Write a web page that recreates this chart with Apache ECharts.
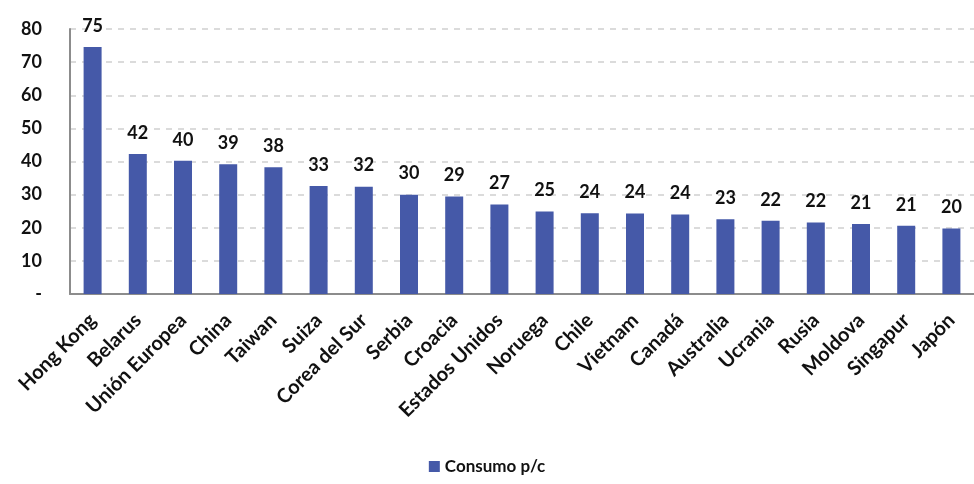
<!DOCTYPE html>
<html>
<head>
<meta charset="utf-8">
<script src="https://cdn.jsdelivr.net/npm/echarts@6/dist/echarts.min.js"></script>
<style>html,body{margin:0;padding:0;background:#fff;}#c{width:974px;height:484px;}</style>
</head>
<body>
<div id="c"></div>
<script>
const categories = ['Hong Kong','Belarus','Unión Europea','China','Taiwan','Suiza','Corea del Sur','Serbia','Croacia','Estados Unidos','Noruega','Chile','Vietnam','Canadá','Australia','Ucrania','Rusia','Moldova','Singapur','Japón'];
const consumo = [74.6, 42.3, 40.2, 39.2, 38.3, 32.6, 32.4, 30.0, 29.4, 27.0, 24.9, 24.4, 24.3, 24.0, 22.6, 22.1, 21.6, 21.1, 20.6, 19.8];
const yTicks = [0, 10, 20, 30, 40, 50, 60, 70, 80];

const FONT = 'Lato, "Open Sans", sans-serif';
const chart = echarts.init(document.getElementById('c'));
chart.setOption({
  animation: false,
  grid: { left: 70, top: 29, width: 916, height: 265 },
  legend: {
    bottom: 4, left: 'center',
    itemWidth: 11, itemHeight: 11, itemGap: 6,
    icon: 'rect',
    textStyle: { fontFamily: FONT, fontWeight: 'bold', fontSize: 17, color: '#111' },
    data: ['Consumo p/c']
  },
  xAxis: {
    type: 'category',
    data: categories,
    axisLine: { lineStyle: { color: '#8c8c8c', width: 2 } },
    axisTick: { show: false },
    axisLabel: { rotate: 45, interval: 0, margin: 23, fontFamily: FONT, fontWeight: 'bold', fontSize: 20, color: '#111' }
  },
  yAxis: {
    type: 'value',
    min: yTicks[0], max: yTicks[yTicks.length - 1], interval: 10,
    axisLine: { show: true, lineStyle: { color: '#8c8c8c', width: 2 } },
    axisTick: { show: false },
    splitLine: { lineStyle: { color: '#cfcfcf', type: [6, 6], width: 1.5 } },
    axisLabel: {
      margin: 28, fontFamily: FONT, fontWeight: 'bold', fontSize: 18, color: '#111',
      formatter: v => v === 0 ? '-' : String(v)
    }
  },
  series: [{
    name: 'Consumo p/c',
    type: 'bar',
    data: consumo,
    barWidth: 18,
    itemStyle: { color: '#4559a8' },
    label: {
      show: true, position: 'top', distance: 12,
      fontFamily: FONT, fontWeight: 'bold', fontSize: 18, color: '#111',
      formatter: p => Math.round(p.value)
    }
  }]
});
</script>
</body>
</html>
